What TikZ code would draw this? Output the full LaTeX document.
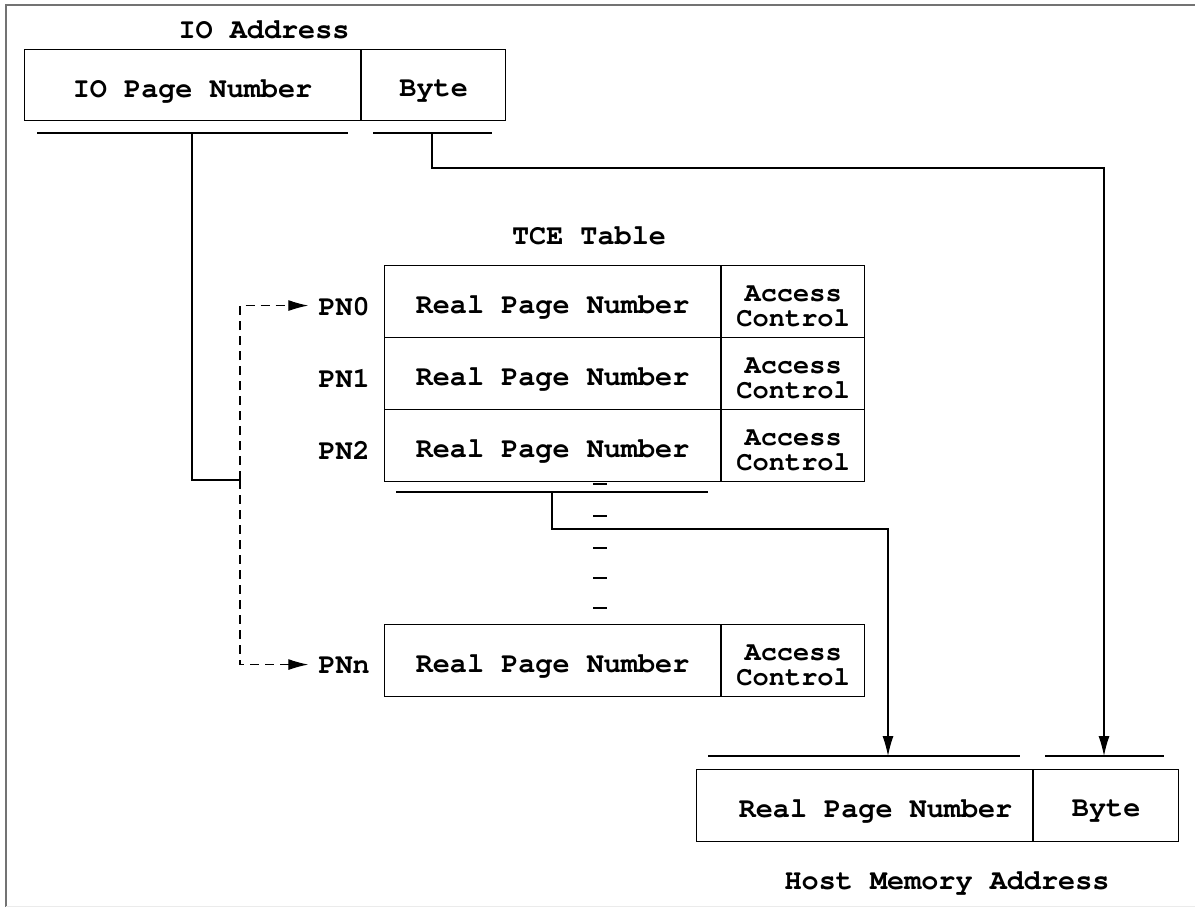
\documentclass[tikz,border=0pt]{standalone}
\usepackage[T1]{fontenc}
\usetikzlibrary{arrows.meta}

\newcommand\cellfont{\fontsize{28.5}{30}\usefont{T1}{pcr}{b}{n}}
\newcommand\acfont{\fontsize{27}{25}\usefont{T1}{pcr}{b}{n}}
\newcommand\dn[1]{\raisebox{-5pt}[\height][\depth]{#1}}

\tikzset{
  cell/.style={draw, line width=1.1pt, inner sep=0pt, anchor=north west, font=\cellfont},
  accell/.style={cell, align=center, font=\acfont},
  lbl/.style={inner sep=0pt, font=\cellfont},
  bar/.style={line width=1.1pt},
  link/.style={line width=1.1pt, -{Latex[length=20pt,width=11pt]}},
  dashlink/.style={link, dash pattern=on 9pt off 6pt, shorten >=10pt},
}

\begin{document}
\begin{tikzpicture}[x=1pt, y=-1pt]
  \useasboundingbox (0,0) rectangle (1195,907);
  \draw[line width=2pt, black!55] (6,907) -- (6,5) -- (1195,5);
  \draw[line width=1pt, black!8] (6,906) -- (1195,906);

  % IO address
  \node[lbl] (ioaddr) at (264,30) {IO Address};
  \node[cell, minimum width=336pt, minimum height=71pt] (iopage) at (24,49) {\dn{IO Page Number}};
  \node[cell, minimum width=144pt, minimum height=71pt] (iobyte) at (iopage.north east) {\dn{Byte}};
  \draw[bar] (37,133) -- (348,133);
  \draw[bar] (373,133) -- (492,133);
  \coordinate (iopagebar) at (192,133);
  \coordinate (iobytebar) at (432,133);

  % TCE table
  \node[lbl] (tcetitle) at (589,236) {TCE Table};
  \foreach \n/\y in {0/265, 1/337, 2/409, n/624} {
    \node[cell, minimum width=336pt, minimum height=72pt] (rpn\n) at (384,\y) {\dn{Real Page Number}};
    \node[accell, minimum width=143pt, minimum height=72pt] (ac\n) at (rpn\n.north east) {\dn{Access}\\\dn{Control}};
    \node[lbl, anchor=east] (pn\n) at ([xshift=-14pt]rpn\n.west) {\dn{PN\n}};
  }
  \foreach \y in {484,516,548,578,608}
    \draw[line width=2.5pt] (593,\y) -- (607,\y);
  \draw[bar] (396,492) -- (708,492);
  \coordinate (tcebar) at (552,492);

  % host memory address
  \node[cell, minimum width=336pt, minimum height=72pt] (hostpage) at (696,769) {\dn{\hspace*{22pt}Real Page Number}};
  \node[cell, minimum width=145pt, minimum height=72pt] (hostbyte) at (hostpage.north east) {\dn{Byte}};
  \node[lbl] (hostaddr) at (947,882) {Host Memory Address};
  \draw[bar] (708,756) -- (1020,756);
  \draw[bar] (1045,756) -- (1164,756);
  \coordinate (hostpagebar) at (888,756);
  \coordinate (hostbytebar) at (1104,756);

  \coordinate (pnjoin) at (240,480);
  \draw[bar] (iopagebar) |- (pnjoin);
  \draw[dashlink] (pnjoin) |- ([yshift=-4pt]pn0.west);
  \draw[dashlink] (pnjoin) |- ([yshift=-4pt]pnn.west);
  \draw[link] (iobytebar) -- (iobytebar |- 0,168) -| (hostbytebar);
  \draw[link] (tcebar) -- (tcebar |- 0,529) -| (hostpagebar);
\end{tikzpicture}
\end{document}
